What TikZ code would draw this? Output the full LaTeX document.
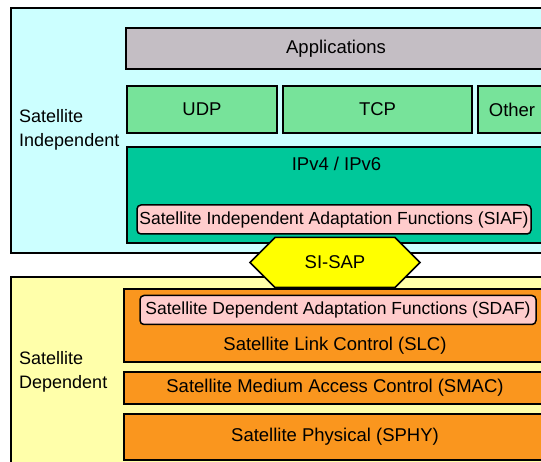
\documentclass[tikz,border=0pt]{standalone}
\usepackage{fontspec}
\setmainfont{Liberation Sans}
\usetikzlibrary{positioning,calc,shapes.misc}
\definecolor{indepcyan}{RGB}{204,255,255}
\definecolor{depyellow}{RGB}{255,255,170}
\definecolor{appgray}{RGB}{196,190,196}
\definecolor{transgreen}{RGB}{119,227,154}
\definecolor{ipteal}{RGB}{0,200,154}
\definecolor{adaptpink}{RGB}{255,204,204}
\definecolor{sapyellow}{RGB}{255,255,0}
\definecolor{linkorange}{RGB}{250,150,30}

\begin{document}
\begin{tikzpicture}[
    x=1pt, y=-1pt,
    font=\fontsize{18.5}{24}\selectfont,
    zone/.style={draw, line width=1.6pt, anchor=north west, minimum width=560pt, inner sep=0pt},
    layer/.style={draw, line width=2pt, anchor=north west, inner sep=0pt},
    adapt/.style={draw, line width=1.5pt, rounded corners=4pt, fill=adaptpink, minimum height=29pt, inner sep=1pt,
        font=\fontsize{17.5}{22}\selectfont},
    sidetext/.style={anchor=west, align=left, inner sep=0pt, font=\fontsize{18}{24}\selectfont}
]
\useasboundingbox (0,0) rectangle (541,462);
\clip (0,0) rectangle (541,462);

% upper half: satellite independent stack
\node[zone, fill=indepcyan, minimum height=245pt] (indep) at (10,7) {};
\node[sidetext] (indeplabel) at (19,130) {Satellite\\Independent};
\node[layer, fill=appgray, minimum width=420pt, minimum height=41pt] (apps) at (125,27) {Applications};
\node[layer, fill=transgreen, minimum width=150pt, minimum height=47pt] (udp) at (126,85) {UDP};
\node[layer, fill=transgreen, minimum width=189pt, minimum height=47pt] (tcp) at (282,85) {TCP};
\node[layer, fill=transgreen, minimum width=68pt, minimum height=47pt] (other) at (477,85) {Other};
\node[layer, fill=ipteal, minimum width=419pt, minimum height=96pt] (ip) at (126,146) {};
\node (ipname) at ($(ip.north)+(0,18)$) {IPv4 / IPv6};
\node[adapt, minimum width=394pt] (siaf) at (334,219.5) {Satellite Independent Adaptation Functions (SIAF)};

% lower half: satellite dependent stack
\node[zone, fill=depyellow, minimum height=200pt] (dep) at (10,276) {};
\node[sidetext] (deplabel) at (19,372) {Satellite\\Dependent};
\node[layer, fill=linkorange, minimum width=422pt, minimum height=73pt] (slc) at (123,288) {};
\node[adapt, minimum width=396pt] (sdaf) at (338,310) {Satellite Dependent Adaptation Functions (SDAF)};
\node (slcname) at ($(slc.south)+(0,-17)$) {Satellite Link Control (SLC)};
\node[layer, fill=linkorange, minimum width=422pt, minimum height=32pt] (smac) at (123,371) {Satellite Medium Access Control (SMAC)};
\node[layer, fill=linkorange, minimum width=422pt, minimum height=46pt] (sphy) at (123,412.5) {Satellite Physical (SPHY)};

% service access point between the two halves
\node[draw, line width=1.6pt, fill=sapyellow, chamfered rectangle,
      chamfered rectangle xsep=10pt, chamfered rectangle ysep=18.5pt,
      minimum width=170pt, minimum height=37pt, inner sep=0pt] (sisap) at (335,262.5) {SI-SAP};
\end{tikzpicture}
\end{document}
